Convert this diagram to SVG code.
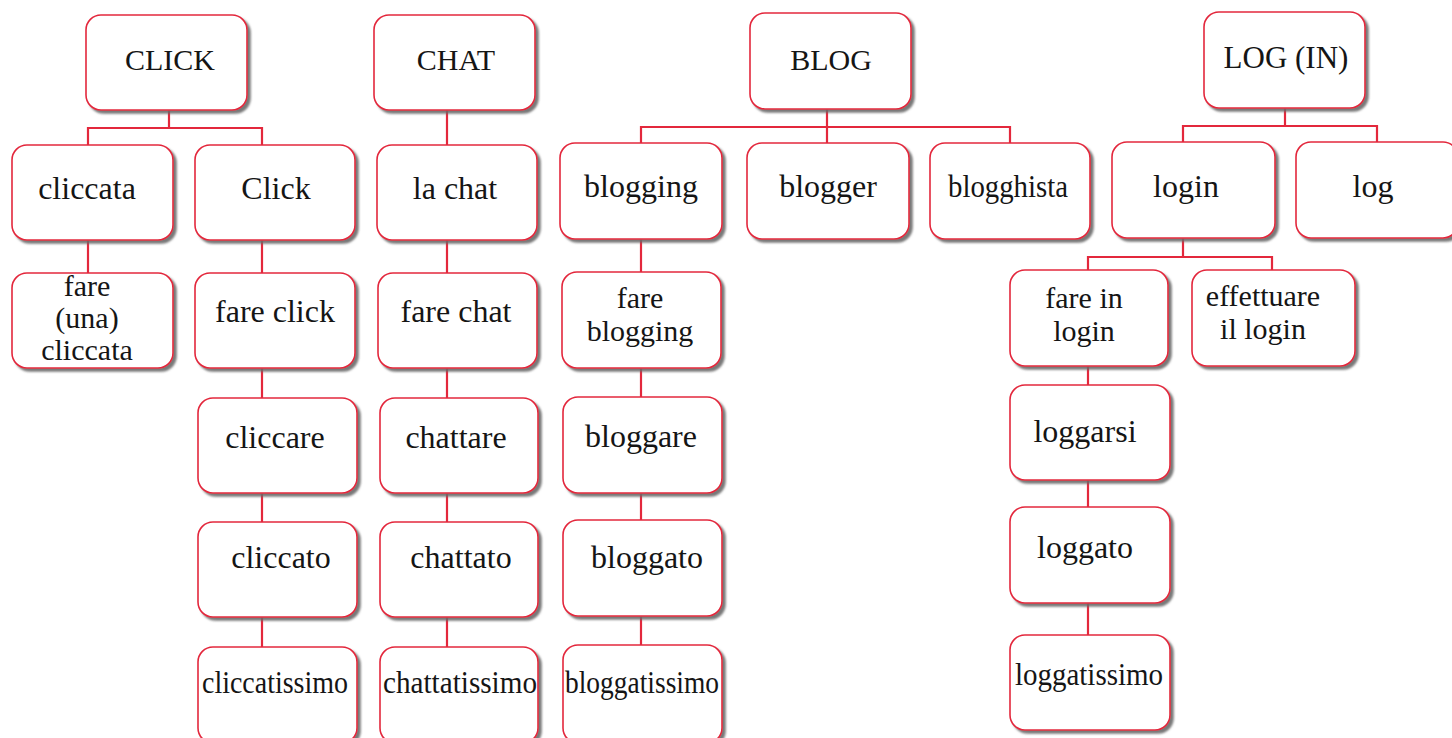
<svg xmlns="http://www.w3.org/2000/svg" width="1452" height="738" viewBox="0 0 1452 738">
<defs>
<filter id="sh" x="-10%" y="-10%" width="125%" height="125%">
<feDropShadow dx="3" dy="3" stdDeviation="1" flood-color="#6a6a6a" flood-opacity="0.9"/>
</filter>
<style>
.box{fill:#ffffff;stroke:#e3283c;stroke-width:1.6;filter:url(#sh)}
.t{font-family:"Liberation Serif","Times New Roman",serif;font-size:32px;fill:#151515;text-anchor:middle}
.h{font-size:30px}
.m{font-size:30px}
.c{fill:none;stroke:#e3283c;stroke-width:2.2}
</style>
</defs>
<rect x="0" y="0" width="1452" height="738" fill="#ffffff"/>
<g id="connectors">
<path class="c" d="M169,110V128M88,128H262M88,127V145M262,127V145"/>
<path class="c" d="M88,240V273"/>
<path class="c" d="M262,240V273M262,368V398M262,493V522M262,617V647"/>
<path class="c" d="M447,110V145M447,240V273M447,368V398M447,493V522M447,617V647"/>
<path class="c" d="M827,109V127M641,127H1010M641,126V143M827,126V143M1010,126V143"/>
<path class="c" d="M641,239V272M641,368V397M641,493V520M641,616V645"/>
<path class="c" d="M1285,108V126M1183,126H1377M1183,125V142M1377,125V142"/>
<path class="c" d="M1183,238V257M1088,257H1272M1088,256V270M1272,256V270"/>
<path class="c" d="M1088,366V385M1088,480V507M1088,603V635"/>
</g>
<g id="n-CLICK"><rect class="box" x="86" y="15" width="161" height="95" rx="15"/><text class="t h" x="170" y="70">CLICK</text></g>
<g id="n-cliccata"><rect class="box" x="12" y="145" width="161" height="95" rx="15"/><text class="t" x="87" y="199">cliccata</text></g>
<g id="n-fare-una-cliccata"><rect class="box" x="12" y="273" width="161" height="95" rx="15"/><text class="t m" x="87" y="296">fare</text><text class="t m" x="87" y="328">(una)</text><text class="t m" x="87" y="360">cliccata</text></g>
<g id="n-Click"><rect class="box" x="195" y="145" width="160" height="95" rx="15"/><text class="t" x="276" y="199">Click</text></g>
<g id="n-fare-click"><rect class="box" x="195" y="273" width="160" height="95" rx="15"/><text class="t" x="275" y="322">fare click</text></g>
<g id="n-cliccare"><rect class="box" x="198" y="398" width="159" height="95" rx="15"/><text class="t" x="275" y="448">cliccare</text></g>
<g id="n-cliccato"><rect class="box" x="198" y="522" width="159" height="95" rx="15"/><text class="t" x="281" y="568">cliccato</text></g>
<g id="n-cliccatissimo"><rect class="box" x="198" y="647" width="159" height="96" rx="15"/><text class="t" x="275" y="693" textLength="146" lengthAdjust="spacingAndGlyphs">cliccatissimo</text></g>
<g id="n-CHAT"><rect class="box" x="374" y="15" width="161" height="95" rx="15"/><text class="t h" x="456" y="70">CHAT</text></g>
<g id="n-la-chat"><rect class="box" x="377" y="145" width="160" height="95" rx="15"/><text class="t" x="455" y="199">la chat</text></g>
<g id="n-fare-chat"><rect class="box" x="378" y="273" width="159" height="95" rx="15"/><text class="t" x="456" y="322">fare chat</text></g>
<g id="n-chattare"><rect class="box" x="380" y="398" width="158" height="95" rx="15"/><text class="t" x="456" y="448">chattare</text></g>
<g id="n-chattato"><rect class="box" x="380" y="522" width="158" height="95" rx="15"/><text class="t" x="461" y="568">chattato</text></g>
<g id="n-chattatissimo"><rect class="box" x="380" y="647" width="158" height="96" rx="15"/><text class="t" x="460" y="693" textLength="154" lengthAdjust="spacingAndGlyphs">chattatissimo</text></g>
<g id="n-BLOG"><rect class="box" x="750" y="13" width="161" height="96" rx="15"/><text class="t h" x="831" y="70">BLOG</text></g>
<g id="n-blogging"><rect class="box" x="560" y="143" width="162" height="96" rx="15"/><text class="t" x="641" y="197">blogging</text></g>
<g id="n-blogger"><rect class="box" x="747" y="143" width="162" height="96" rx="15"/><text class="t" x="828" y="197">blogger</text></g>
<g id="n-blogghista"><rect class="box" x="930" y="143" width="160" height="96" rx="15"/><text class="t" x="1008" y="197" textLength="120" lengthAdjust="spacingAndGlyphs">blogghista</text></g>
<g id="n-fare-blogging"><rect class="box" x="562" y="272" width="159" height="96" rx="15"/><text class="t m" x="640" y="308">fare</text><text class="t m" x="640" y="341">blogging</text></g>
<g id="n-bloggare"><rect class="box" x="563" y="397" width="159" height="96" rx="15"/><text class="t" x="641" y="447">bloggare</text></g>
<g id="n-bloggato"><rect class="box" x="563" y="520" width="159" height="96" rx="15"/><text class="t" x="647" y="568">bloggato</text></g>
<g id="n-bloggatissimo"><rect class="box" x="563" y="645" width="159" height="98" rx="15"/><text class="t" x="642" y="693" textLength="154" lengthAdjust="spacingAndGlyphs">bloggatissimo</text></g>
<g id="n-LOG-IN"><rect class="box" x="1204" y="12" width="161" height="96" rx="15"/><text class="t" x="1286" y="68" style="font-size:31px">LOG (IN)</text></g>
<g id="n-login"><rect class="box" x="1112" y="142" width="163" height="96" rx="15"/><text class="t" x="1186" y="197">login</text></g>
<g id="n-log"><rect class="box" x="1296" y="142" width="162" height="96" rx="15"/><text class="t" x="1373" y="197">log</text></g>
<g id="n-fare-in-login"><rect class="box" x="1010" y="270" width="158" height="96" rx="15"/><text class="t m" x="1084" y="308">fare in</text><text class="t m" x="1084" y="341">login</text></g>
<g id="n-effettuare-il-login"><rect class="box" x="1192" y="270" width="163" height="96" rx="15"/><text class="t m" x="1263" y="306">effettuare</text><text class="t m" x="1263" y="339">il login</text></g>
<g id="n-loggarsi"><rect class="box" x="1010" y="385" width="160" height="95" rx="15"/><text class="t" x="1085" y="442">loggarsi</text></g>
<g id="n-loggato"><rect class="box" x="1010" y="507" width="160" height="96" rx="15"/><text class="t" x="1085" y="558">loggato</text></g>
<g id="n-loggatissimo"><rect class="box" x="1010" y="635" width="160" height="95" rx="15"/><text class="t" x="1089" y="685" textLength="148" lengthAdjust="spacingAndGlyphs">loggatissimo</text></g>
</svg>
